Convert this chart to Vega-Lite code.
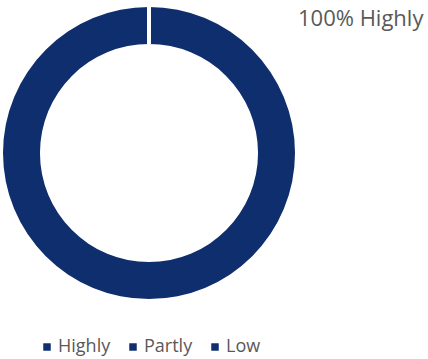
{
  "$schema": "https://vega.github.io/schema/vega-lite/v6.json",
  "width": 292,
  "height": 292,
  "autosize": {"type": "none"},
  "padding": {"left": 3, "top": 7, "right": 133, "bottom": 60},
  "background": "white",
  "title": {
    "text": "100% Highly",
    "orient": "top",
    "anchor": "end",
    "frame": "group",
    "align": "left",
    "baseline": "alphabetic",
    "offset": 0,
    "dx": 3,
    "dy": 49,
    "font": "Open Sans",
    "fontSize": 22,
    "fontWeight": "normal",
    "color": "#595959"
  },
  "data": {
    "values": [
      {"category": "Highly", "value": 100},
      {"category": "Partly", "value": 0},
      {"category": "Low", "value": 0}
    ]
  },
  "mark": {"type": "arc", "innerRadius": 109, "outerRadius": 146, "stroke": "white"},
  "encoding": {
    "theta": {"field": "value", "type": "quantitative", "stack": true},
    "order": {"field": "value", "sort": "descending"},
    "color": {
      "field": "category",
      "type": "nominal",
      "sort": ["Highly", "Partly", "Low"],
      "scale": {"domain": ["Highly", "Partly", "Low"], "range": ["#0F2E6E", "#0F2E6E", "#0F2E6E"]},
      "legend": {
        "title": null,
        "orient": "none",
        "direction": "horizontal",
        "legendX": 35,
        "legendY": 331,
        "symbolType": "square",
        "symbolSize": 56,
        "symbolStrokeWidth": 0,
        "labelFont": "Open Sans",
        "labelFontSize": 18,
        "labelColor": "#595959",
        "labelOffset": 2,
        "columnPadding": 13,
        "padding": 0
      }
    },
    "strokeWidth": {"condition": {"test": "datum.value == 0", "value": 4}, "value": 0}
  },
  "config": {"view": {"stroke": null}}
}
